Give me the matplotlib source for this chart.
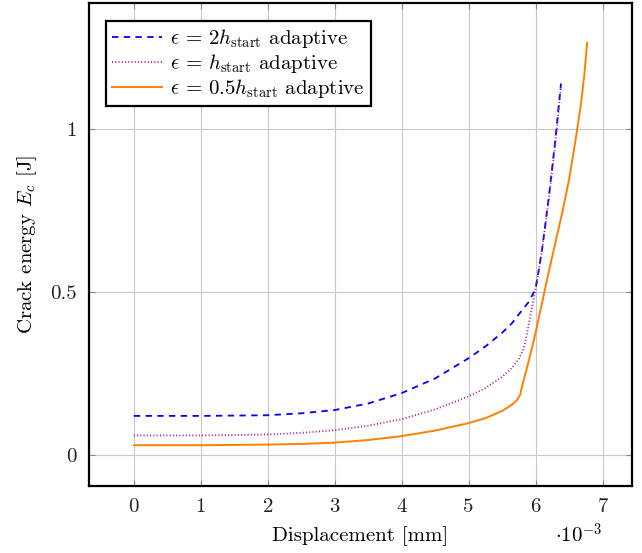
import numpy as np
import matplotlib
matplotlib.use("Agg")
import matplotlib.pyplot as plt
from matplotlib.ticker import FuncFormatter, MultipleLocator

plt.rcParams['font.family'] = 'serif'
plt.rcParams['font.serif'] = ['cmr10']
plt.rcParams['mathtext.fontset'] = 'cm'
plt.rcParams['axes.formatter.use_mathtext'] = True

# displacement in mm
x_2h = np.array([0, 1, 2, 2.5, 3, 3.5, 4, 4.5, 5, 5.25, 5.5, 5.65, 5.8, 5.9, 6.0,
                 6.05, 6.1, 6.15, 6.2, 6.25, 6.3, 6.35, 6.38]) * 1e-3
e_2h = [0.12, 0.12, 0.122, 0.128, 0.138, 0.158, 0.19, 0.235, 0.297, 0.333, 0.375,
        0.405, 0.445, 0.47, 0.51, 0.57, 0.635, 0.715, 0.795, 0.885, 0.975, 1.08, 1.14]

x_h = np.array([0, 1, 2, 2.5, 3, 3.5, 4, 4.5, 5, 5.25, 5.5, 5.65, 5.75, 5.82, 5.87,
                5.93, 6.0, 6.05, 6.1, 6.15, 6.2, 6.25, 6.3, 6.35, 6.38]) * 1e-3
e_h = [0.06, 0.06, 0.063, 0.068, 0.076, 0.09, 0.11, 0.14, 0.18, 0.205, 0.24, 0.268,
       0.295, 0.325, 0.37, 0.435, 0.51, 0.57, 0.635, 0.71, 0.79, 0.875, 0.965, 1.07, 1.13]

x_05h = np.array([0, 1, 2, 2.5, 3, 3.5, 4, 4.5, 5, 5.25, 5.5, 5.65, 5.72, 5.77, 5.8,
                  5.9, 6.0, 6.1, 6.2, 6.3, 6.4, 6.5, 6.6, 6.68, 6.73, 6.77]) * 1e-3
e_05h = [0.03, 0.03, 0.032, 0.034, 0.038, 0.046, 0.058, 0.075, 0.098, 0.113, 0.135,
         0.155, 0.168, 0.185, 0.212, 0.29, 0.375, 0.47, 0.565, 0.655, 0.745, 0.845,
         0.97, 1.08, 1.17, 1.265]

labels = [r'$\epsilon\,=\,2h_{\mathrm{start}}$ adaptive',
          r'$\epsilon\,=\,h_{\mathrm{start}}$ adaptive',
          r'$\epsilon\,=\,0.5h_{\mathrm{start}}$ adaptive']

fig = plt.figure(figsize=(6.42, 5.53), dpi=100)
ax = fig.add_axes([0.1386, 0.1212, 0.8458, 0.8734])

ax.plot(x_2h, e_2h, color='#0000ff', ls=(0, (3.5, 3)), lw=1.3, label=labels[0])
ax.plot(x_h, e_h, color='#a020a0', ls=(0, (0.6, 1.2)), lw=1.3, label=labels[1])
ax.plot(x_05h, e_05h, color='#ff8000', ls='-', lw=1.4, label=labels[2])

ax.set_xlim(-0.67e-3, 7.44e-3)
ax.set_ylim(-0.095, 1.387)
ax.xaxis.set_major_locator(MultipleLocator(1e-3))
ax.yaxis.set_major_locator(MultipleLocator(0.5))
ax.xaxis.set_major_formatter(FuncFormatter(lambda v, p: f'{v * 1e3:g}'))
ax.yaxis.set_major_formatter(FuncFormatter(lambda v, p: f'{v:g}'))
ax.grid(True, color='#c8c8c8', lw=0.8)
ax.tick_params(direction='in', top=True, right=True, length=4, color='#888888',
               labelsize=15, labelcolor='#222222', pad=9)
for s in ax.spines.values():
    s.set_linewidth(1.6)

ax.set_xlabel('Displacement [mm]', fontsize=15, labelpad=7)
ax.set_ylabel(r'Crack energy $E_c$ [J]', fontsize=15, labelpad=8)
ax.text(0.945, -0.118, r'$\cdot 10^{-3}$', transform=ax.transAxes, fontsize=15,
        ha='right', va='baseline')

leg = ax.legend(loc='upper left', fontsize=15, fancybox=False, framealpha=1,
                edgecolor='black', handlelength=2.4, handletextpad=0.4,
                borderpad=0.3, labelspacing=0.1, bbox_to_anchor=(0.012, 0.985))
leg.get_frame().set_linewidth(1.6)

fig.savefig('out.png', dpi=100)
